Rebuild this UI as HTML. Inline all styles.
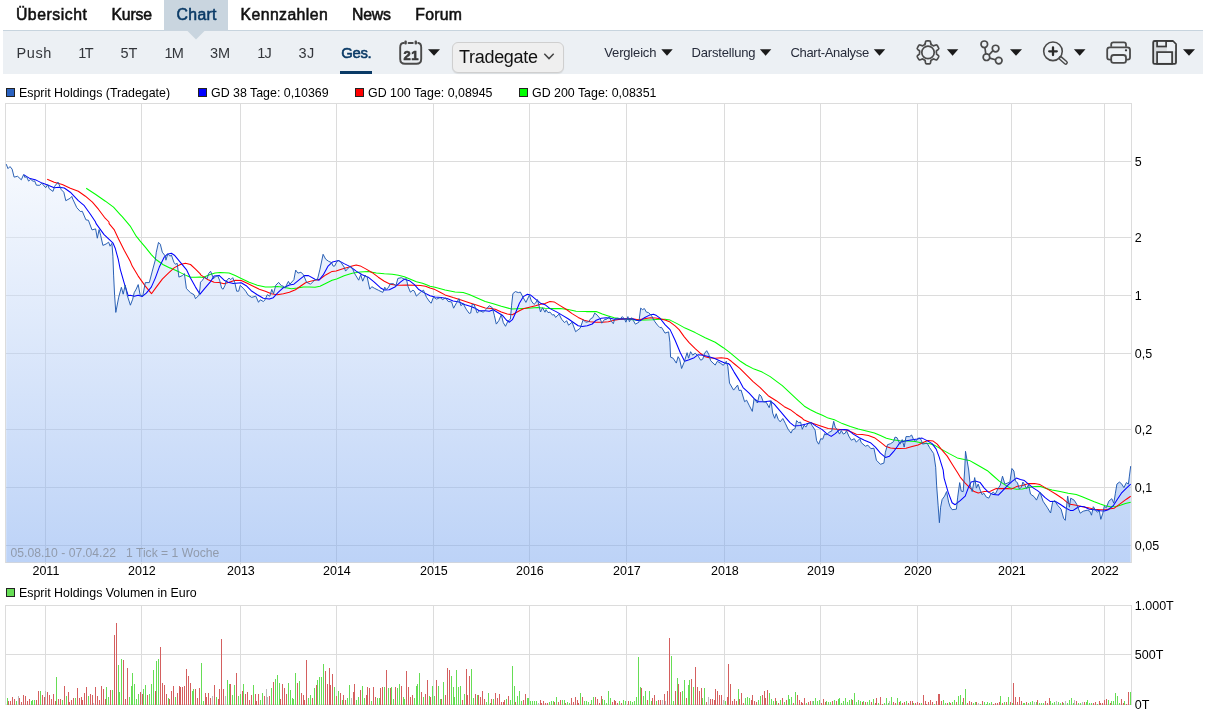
<!DOCTYPE html>
<html lang="de">
<head>
<meta charset="utf-8">
<title>Esprit Holdings Chart</title>
<style>
html,body{margin:0;padding:0;background:#fff;}
body{width:1205px;height:717px;position:relative;overflow:hidden;font-family:"Liberation Sans",Arial,sans-serif;color:#000;}
.tabact{position:absolute;left:164px;top:0;width:64px;height:31px;background:#c9d5df;}
.bar{position:absolute;left:3px;top:30px;width:1200px;height:44px;background:#ecf0f4;border-top:1px solid #c7d4de;box-sizing:border-box;}
.ptr{position:absolute;left:187px;top:30px;width:0;height:0;border-left:9px solid transparent;border-right:9px solid transparent;border-top:9.5px solid #c9d5df;}
.selbox{position:absolute;left:452px;top:42px;width:112px;height:31px;box-sizing:border-box;border:1px solid #cfcfcf;border-radius:6px;background:#efefef;font-size:18px;letter-spacing:-0.3px;line-height:29px;color:#111;padding-left:6px;box-shadow:0 1px 1px rgba(0,0,0,0.08);}
</style>
</head>
<body>
<svg width="1205" height="717" viewBox="0 0 1205 717" style="position:absolute;left:0;top:0" font-family="Liberation Sans, Arial, sans-serif" font-size="12.5">
<defs><linearGradient id="ag" gradientUnits="userSpaceOnUse" x1="0" y1="103" x2="0" y2="562"><stop offset="0" stop-color="#ffffff"/><stop offset="1" stop-color="#7ba7ef"/></linearGradient>
<clipPath id="cp"><rect x="5.5" y="103.5" width="1126.0" height="459.0"/></clipPath></defs>
<path d="M45.5 103.5 V564.5 M45.5 605.5 V704.5 M141.5 103.5 V564.5 M141.5 605.5 V704.5 M240.5 103.5 V564.5 M240.5 605.5 V704.5 M336.5 103.5 V564.5 M336.5 605.5 V704.5 M433.5 103.5 V564.5 M433.5 605.5 V704.5 M529.5 103.5 V564.5 M529.5 605.5 V704.5 M626.5 103.5 V564.5 M626.5 605.5 V704.5 M724.5 103.5 V564.5 M724.5 605.5 V704.5 M820.5 103.5 V564.5 M820.5 605.5 V704.5 M917.5 103.5 V564.5 M917.5 605.5 V704.5 M1011.5 103.5 V564.5 M1011.5 605.5 V704.5 M1104.5 103.5 V564.5 M1104.5 605.5 V704.5 M5.5 161.5 H1131.5 M5.5 237.5 H1131.5 M5.5 295.5 H1131.5 M5.5 353.5 H1131.5 M5.5 429.5 H1131.5 M5.5 487.5 H1131.5 M5.5 545.5 H1131.5 M5.5 654.5 H1131.5" stroke="#dcdcdc" stroke-width="1" fill="none"/>
<rect x="5.5" y="103.5" width="1126.0" height="459.0" fill="none" stroke="#dcdcdc"/>
<rect x="5.5" y="605.5" width="1126.0" height="99.0" fill="none" stroke="#dcdcdc"/>
<g clip-path="url(#cp)">
<path d="M6.2 164.1 L8.0 168.6 L10.0 166.6 L12.1 169.1 L14.1 177.1 L17.6 176.3 L21.3 179.8 L23.6 174.6 L25.1 177.6 L26.3 176.3 L28.6 181.1 L30.6 179.3 L33.1 181.3 L34.6 180.9 L36.4 185.2 L39.7 185.3 L41.7 183.1 L45.7 187.7 L47.7 184.6 L49.2 188.7 L53.0 191.4 L54.7 186.2 L58.0 182.1 L61.3 189.7 L63.8 192.2 L65.8 200.7 L70.3 198.2 L71.8 196.4 L72.8 199.2 L76.8 207.7 L80.3 211.5 L82.3 211.3 L85.9 219.8 L88.4 220.3 L92.0 229.9 L95.6 228.9 L97.3 238.2 L99.1 229.6 L100.6 235.2 L102.9 245.4 L106.1 244.0 L108.6 242.2 L110.1 246.2 L111.9 243.4 L112.9 256.2 L113.6 275.1 L114.6 295.2 L115.8 312.4 L118.7 297.2 L121.4 287.3 L123.2 294.2 L125.2 285.1 L127.2 295.2 L130.4 305.2 L132.7 299.2 L134.2 292.7 L136.2 289.1 L138.2 284.6 L140.2 295.2 L142.8 295.7 L145.3 282.6 L149.3 282.6 L152.3 271.1 L155.3 260.0 L156.3 252.2 L158.5 242.4 L160.3 244.2 L162.3 252.2 L165.4 256.2 L165.9 260.2 L167.9 253.7 L169.9 256.2 L171.4 255.0 L173.9 262.3 L175.4 264.3 L177.2 263.3 L178.9 277.1 L182.4 275.6 L184.4 273.6 L186.4 288.6 L190.5 292.7 L194.0 294.7 L195.5 298.7 L199.0 295.2 L200.0 288.1 L200.5 282.2 L202.5 280.2 L204.5 277.1 L207.1 278.7 L208.6 273.6 L210.6 271.3 L213.6 278.7 L215.6 276.6 L217.6 275.6 L219.6 280.2 L221.6 288.2 L223.1 289.2 L225.1 285.2 L226.1 281.2 L229.1 278.0 L230.7 279.7 L232.7 277.7 L234.7 282.2 L236.7 291.2 L238.7 291.2 L240.2 285.4 L243.2 288.2 L245.7 291.2 L248.2 295.2 L251.7 297.4 L255.8 296.2 L258.5 302.3 L260.3 299.8 L263.3 301.5 L264.8 300.2 L267.3 294.7 L269.8 296.2 L271.8 289.4 L273.5 293.7 L275.8 285.2 L278.6 282.4 L281.4 285.7 L283.4 286.2 L284.9 288.2 L288.4 281.4 L289.9 284.2 L293.9 279.7 L295.7 270.1 L297.9 273.1 L300.9 272.3 L303.4 274.6 L306.5 282.2 L310.5 284.2 L315.0 279.7 L317.5 279.2 L320.0 269.1 L323.1 254.3 L325.6 259.1 L328.6 261.3 L331.6 262.6 L333.1 266.1 L334.6 266.1 L336.6 262.1 L338.6 260.1 L341.1 262.6 L344.1 267.1 L345.6 271.1 L348.2 268.1 L350.2 266.3 L352.7 269.1 L354.7 273.7 L358.7 280.2 L360.7 274.7 L362.7 281.2 L365.2 275.2 L367.2 277.2 L369.8 289.2 L371.8 286.7 L374.3 288.2 L378.3 290.2 L382.8 292.4 L384.8 287.2 L385.8 289.7 L388.3 287.7 L390.3 283.7 L393.4 283.7 L395.9 285.7 L397.9 278.4 L401.4 277.7 L404.4 279.2 L406.4 278.7 L407.9 286.2 L410.4 292.2 L412.9 290.2 L414.4 291.2 L416.4 296.1 L420.5 292.2 L423.5 290.2 L426.5 297.3 L430.0 302.3 L431.2 303.2 L433.5 297.1 L436.6 299.1 L440.1 297.6 L442.6 299.6 L445.6 297.9 L448.1 301.4 L451.6 301.9 L453.6 308.2 L456.6 302.7 L458.9 298.6 L460.9 305.7 L463.2 303.7 L466.2 309.2 L469.2 313.4 L470.7 313.0 L472.2 304.2 L474.2 304.7 L477.2 313.0 L479.7 310.7 L483.2 312.2 L486.3 309.2 L489.3 305.7 L492.3 307.7 L494.3 315.2 L496.3 324.1 L498.8 320.7 L501.3 314.7 L503.3 322.7 L505.5 326.3 L507.9 321.2 L510.4 319.2 L511.6 305.2 L512.9 293.6 L515.4 291.6 L518.4 292.6 L520.4 292.1 L522.9 297.1 L525.9 302.4 L529.4 295.1 L531.4 301.1 L534.0 304.4 L535.5 303.2 L537.5 299.6 L540.5 312.0 L542.5 307.7 L545.0 312.2 L546.0 309.6 L548.0 312.6 L550.0 312.1 L552.5 315.1 L554.1 314.6 L555.6 317.4 L559.1 314.1 L561.6 319.2 L564.6 322.7 L566.6 320.7 L568.6 325.2 L572.1 322.2 L575.6 331.7 L580.2 328.2 L583.2 319.7 L585.7 322.2 L588.7 321.7 L590.7 318.7 L592.7 317.7 L594.7 313.1 L597.2 315.1 L600.2 318.7 L601.8 323.2 L604.3 319.7 L606.8 319.2 L609.3 316.6 L611.3 321.2 L613.3 323.7 L614.8 318.7 L617.8 318.2 L620.3 318.7 L622.3 316.6 L624.4 318.7 L625.9 322.2 L627.9 316.6 L629.4 321.7 L631.6 317.7 L633.4 320.7 L635.4 324.2 L638.9 322.2 L640.7 308.1 L642.4 309.6 L644.4 308.6 L646.4 312.1 L648.5 312.6 L651.5 315.6 L654.5 321.2 L657.5 325.2 L660.0 327.7 L661.5 327.3 L665.0 333.1 L668.6 331.9 L669.9 342.2 L670.6 357.2 L673.1 358.2 L676.3 363.1 L678.1 356.7 L679.6 359.2 L681.6 368.5 L684.1 362.3 L687.1 352.7 L688.6 358.2 L690.6 351.7 L692.7 355.2 L695.2 353.2 L698.2 356.2 L700.7 360.2 L702.7 359.2 L704.7 353.2 L706.7 350.7 L708.7 354.2 L710.7 360.8 L715.2 365.1 L717.3 361.3 L720.3 363.1 L723.3 365.3 L726.3 361.3 L727.8 366.3 L729.5 383.1 L733.6 390.1 L737.6 385.1 L739.1 390.6 L741.1 390.1 L744.6 401.7 L746.6 400.2 L749.1 405.2 L752.3 411.4 L754.1 398.7 L757.4 403.0 L759.4 394.4 L761.2 396.2 L763.2 401.7 L766.2 402.2 L769.2 407.7 L771.0 400.7 L772.7 413.2 L774.7 418.3 L776.2 413.7 L778.2 419.3 L780.2 421.8 L782.8 418.5 L785.3 423.3 L788.0 429.1 L791.0 433.1 L792.5 429.9 L795.1 428.6 L796.6 420.6 L798.6 422.6 L800.6 422.1 L802.3 429.3 L804.1 425.1 L805.9 427.1 L807.6 424.1 L810.1 422.3 L812.1 425.6 L815.1 430.1 L816.6 440.7 L818.7 444.2 L820.7 438.7 L822.7 439.2 L824.7 433.6 L826.2 435.1 L829.2 432.1 L831.7 431.1 L833.7 421.3 L835.2 427.1 L837.2 429.6 L839.5 434.1 L841.3 430.6 L843.3 434.1 L845.3 433.1 L846.5 430.6 L848.8 436.1 L851.3 440.2 L854.3 438.7 L856.3 442.2 L859.8 438.7 L861.3 442.7 L865.4 446.2 L867.9 445.2 L870.9 448.7 L873.9 448.2 L876.4 460.2 L880.4 464.3 L883.9 463.1 L885.4 452.2 L887.5 444.7 L890.5 443.7 L893.5 441.7 L895.0 437.1 L897.0 437.7 L900.0 444.2 L902.2 439.6 L904.2 447.1 L906.0 436.6 L909.6 436.6 L911.6 435.0 L913.6 439.6 L915.6 441.1 L919.1 437.6 L921.3 440.1 L922.6 444.1 L927.1 443.1 L929.6 447.6 L933.7 453.6 L935.7 467.2 L936.6 485.1 L938.1 505.2 L939.4 522.7 L940.6 507.2 L942.1 499.6 L944.6 496.1 L946.6 491.6 L948.6 502.1 L950.1 506.7 L952.1 509.7 L956.4 509.2 L957.7 497.1 L959.7 482.6 L961.2 491.1 L963.2 491.6 L964.7 470.0 L965.5 451.3 L968.7 470.0 L970.2 485.1 L972.2 491.6 L974.7 477.6 L976.4 488.1 L978.2 484.1 L980.2 490.1 L982.1 494.6 L983.8 493.1 L986.3 497.1 L988.8 498.1 L990.8 494.1 L993.3 492.1 L995.3 494.1 L997.8 489.1 L1000.3 485.1 L1002.5 476.2 L1004.9 484.1 L1007.4 483.1 L1009.9 482.1 L1011.9 468.5 L1013.9 471.0 L1015.4 481.1 L1017.4 482.6 L1019.4 489.1 L1021.4 487.1 L1022.9 482.1 L1024.9 485.1 L1026.6 488.6 L1028.5 484.6 L1030.5 494.1 L1034.0 496.6 L1036.5 500.1 L1039.0 494.1 L1040.0 492.1 L1043.0 501.2 L1047.1 507.2 L1050.6 513.0 L1052.6 502.2 L1054.6 500.7 L1057.6 505.2 L1061.1 509.2 L1063.6 518.3 L1065.3 520.3 L1066.7 505.2 L1067.7 496.2 L1069.4 507.2 L1070.7 498.2 L1074.2 500.2 L1076.7 504.2 L1080.2 513.2 L1083.2 511.2 L1087.2 510.2 L1089.8 511.2 L1091.5 515.2 L1093.3 506.7 L1095.3 509.7 L1097.3 512.2 L1099.3 510.7 L1100.8 519.3 L1102.8 513.2 L1104.3 506.2 L1106.3 507.7 L1108.8 501.2 L1111.8 498.7 L1113.8 503.2 L1115.4 493.2 L1116.9 484.1 L1119.4 482.1 L1121.4 483.6 L1123.9 487.6 L1126.4 482.6 L1128.4 484.1 L1129.4 476.1 L1130.7 466.1 L1130.7 562.5 L6.2 562.5 Z" fill="url(#ag)" fill-opacity="0.5" stroke="none"/>
<path d="M86.2 188.2 L95.4 194.2 L105.4 201.2 L113.5 207.2 L120.0 214.3 L122.2 216.6 L130.2 226.1 L136.2 236.2 L140.2 241.2 L145.3 247.2 L151.3 254.7 L156.3 259.8 L163.3 264.8 L170.4 268.3 L170.4 268.1 L179.4 272.1 L186.4 275.6 L190.5 277.3 L195.5 277.3 L200.0 276.9 L203.0 277.4 L210.1 274.6 L215.1 273.1 L220.1 272.4 L229.1 273.1 L235.2 275.6 L241.2 278.4 L249.2 282.2 L257.3 285.2 L265.3 287.0 L271.3 287.0 L277.3 286.4 L283.4 287.2 L291.4 288.7 L297.4 288.0 L303.4 287.0 L309.5 287.0 L315.0 287.2 L320.0 286.2 L326.1 283.2 L332.1 280.2 L336.6 279.0 L344.1 275.7 L352.2 273.2 L360.2 271.9 L368.2 271.6 L376.3 273.0 L384.3 273.7 L392.3 274.2 L398.4 275.2 L404.4 276.7 L410.4 279.2 L416.4 281.7 L422.5 283.2 L426.5 284.7 L430.0 286.2 L435.0 287.3 L445.1 290.1 L455.1 291.9 L463.2 292.6 L469.2 294.6 L477.2 298.1 L485.2 301.6 L493.3 303.7 L501.3 306.2 L511.4 309.0 L517.4 308.7 L523.4 308.4 L531.4 308.0 L537.5 307.4 L545.0 308.2 L552.0 308.6 L560.1 308.6 L568.1 309.6 L576.1 311.3 L586.2 311.6 L596.2 311.6 L602.3 314.1 L608.3 315.9 L614.3 317.7 L620.3 318.7 L630.4 319.4 L638.4 320.2 L645.4 320.0 L652.5 319.7 L660.0 319.2 L665.0 319.3 L670.1 320.1 L677.1 323.6 L685.1 328.1 L695.2 332.6 L705.2 337.7 L715.2 342.2 L723.3 347.7 L729.3 352.2 L735.3 357.2 L740.4 361.3 L746.1 365.0 L754.1 369.1 L762.2 372.1 L770.2 376.6 L776.2 381.1 L782.3 385.6 L790.3 393.2 L798.3 400.7 L804.4 406.2 L810.4 409.7 L816.4 412.7 L822.4 415.2 L828.2 418.1 L835.2 420.1 L842.3 423.6 L850.3 426.6 L858.3 429.1 L866.4 431.1 L874.4 433.1 L880.4 435.6 L886.4 438.2 L892.5 439.7 L900.0 440.7 L908.0 441.1 L915.1 441.6 L922.1 443.1 L929.1 443.6 L935.2 445.6 L941.2 449.1 L949.2 453.6 L957.3 457.9 L964.3 459.6 L969.3 460.4 L975.3 463.7 L981.4 467.2 L987.4 470.7 L992.3 475.0 L999.3 481.1 L1005.4 485.1 L1010.4 488.1 L1016.4 489.3 L1022.4 488.9 L1028.5 487.6 L1034.5 486.6 L1040.0 486.3 L1046.1 488.6 L1052.1 490.1 L1060.1 491.6 L1068.2 493.2 L1076.2 494.4 L1082.2 496.7 L1088.2 499.2 L1094.3 501.7 L1100.3 504.0 L1105.3 505.7 L1110.3 506.7 L1115.4 506.7 L1120.4 505.2 L1125.4 503.4 L1130.7 502.2" fill="none" stroke="#00ff00" stroke-width="1.05" stroke-linejoin="round"/>
<path d="M47.2 179.3 L54.2 182.3 L62.3 184.6 L70.3 188.2 L78.3 191.2 L85.4 196.2 L92.4 202.2 L98.4 209.2 L104.4 217.3 L109.0 222.0 L109.1 223.6 L114.1 229.6 L118.2 238.2 L124.2 250.2 L130.2 261.3 L132.2 266.1 L138.2 276.1 L145.3 286.1 L151.5 293.7 L156.3 287.1 L162.3 279.1 L168.4 273.1 L174.4 267.6 L180.4 264.5 L185.4 263.2 L190.5 264.5 L195.5 269.1 L200.0 273.6 L201.0 275.1 L208.1 279.7 L214.1 282.2 L219.1 282.4 L224.1 283.7 L229.1 282.2 L235.2 280.2 L241.2 280.4 L247.2 283.2 L253.2 286.2 L259.3 289.2 L265.3 291.2 L271.3 293.7 L277.3 294.7 L283.4 293.7 L289.4 292.2 L295.4 289.7 L300.4 286.2 L305.5 282.7 L310.5 281.2 L315.0 280.2 L320.0 279.2 L326.1 274.7 L332.1 271.4 L336.1 270.9 L342.1 269.1 L348.2 267.3 L352.2 265.9 L356.2 265.1 L360.2 265.9 L366.2 269.1 L372.3 272.7 L378.3 277.2 L384.3 281.2 L390.3 284.2 L395.4 285.0 L400.4 285.2 L406.4 285.0 L414.4 285.2 L420.5 285.5 L425.5 286.2 L430.0 288.0 L435.0 289.6 L440.1 292.3 L445.1 294.9 L453.1 297.6 L461.1 300.1 L469.2 302.7 L477.2 305.2 L485.2 308.0 L491.3 308.4 L495.3 309.2 L501.3 312.0 L507.3 314.0 L512.4 314.7 L515.4 313.0 L519.4 310.7 L523.4 308.7 L529.4 307.2 L535.5 305.7 L540.5 304.2 L545.0 303.4 L550.0 301.6 L554.1 301.9 L560.1 305.6 L566.1 309.3 L572.1 313.6 L578.2 317.4 L584.2 320.2 L590.2 321.7 L596.2 322.2 L602.3 322.2 L608.3 321.7 L614.3 320.2 L620.3 319.2 L626.4 318.7 L632.4 318.7 L638.4 319.7 L644.4 318.7 L650.5 317.7 L655.5 318.0 L660.0 318.7 L665.0 320.1 L670.1 322.1 L675.1 325.9 L679.1 329.6 L684.1 336.6 L689.1 342.7 L695.2 348.7 L700.2 353.2 L705.2 356.7 L709.2 357.7 L715.2 358.2 L721.3 357.7 L727.3 358.4 L731.3 361.3 L735.1 364.5 L740.1 368.6 L746.1 374.6 L753.1 381.6 L760.2 387.6 L768.2 395.7 L776.2 400.7 L784.3 406.7 L790.3 409.7 L796.3 414.2 L802.3 418.3 L804.1 420.1 L810.1 422.6 L816.1 424.6 L822.2 426.6 L828.2 428.6 L834.2 429.1 L840.2 429.6 L846.3 430.1 L850.3 431.6 L856.3 434.3 L862.3 434.6 L868.4 435.4 L874.4 437.7 L880.4 442.2 L885.4 446.2 L890.5 448.0 L895.5 448.4 L900.0 448.4 L906.0 448.3 L912.1 446.6 L918.1 444.9 L924.1 442.1 L928.1 440.6 L933.2 441.1 L937.2 444.1 L941.2 449.1 L947.2 456.1 L952.2 464.2 L957.3 472.2 L960.2 477.1 L965.2 483.1 L970.2 488.1 L974.2 491.6 L978.2 493.1 L984.3 491.6 L990.3 491.3 L996.3 488.6 L1002.3 488.6 L1007.4 488.6 L1011.4 489.1 L1016.4 486.6 L1022.4 485.6 L1028.5 483.6 L1034.5 483.6 L1040.0 484.6 L1045.1 487.6 L1050.1 490.6 L1056.1 494.2 L1062.1 498.2 L1066.2 501.7 L1070.2 504.2 L1076.2 505.2 L1082.2 506.7 L1088.2 507.7 L1094.3 509.2 L1100.3 509.7 L1106.3 509.7 L1110.3 508.7 L1114.3 508.2 L1118.4 505.2 L1122.4 502.2 L1126.4 499.2 L1130.7 496.2" fill="none" stroke="#ff0000" stroke-width="1.05" stroke-linejoin="round"/>
<path d="M23.6 174.6 L30.1 178.6 L36.1 180.1 L42.2 183.1 L48.2 185.3 L54.2 187.7 L59.2 187.2 L64.3 188.0 L70.3 192.2 L78.3 200.7 L84.3 205.7 L90.4 214.3 L95.4 221.8 L96.1 223.6 L104.1 234.6 L113.1 243.2 L115.2 248.2 L118.2 259.2 L120.2 269.1 L124.2 283.1 L128.2 295.7 L130.2 295.2 L134.2 296.2 L138.2 295.2 L142.3 296.4 L146.3 293.2 L151.3 287.1 L155.3 278.1 L159.3 267.1 L164.3 257.0 L164.3 257.2 L167.4 254.2 L171.4 253.2 L174.4 255.2 L180.4 262.3 L186.4 269.6 L190.5 278.1 L195.5 287.1 L200.0 294.2 L205.0 288.2 L210.1 282.2 L214.1 276.1 L219.1 275.4 L224.1 280.2 L228.1 282.2 L233.2 283.4 L241.2 282.7 L246.2 285.7 L251.2 290.7 L257.3 294.7 L263.3 298.2 L269.3 299.1 L273.3 297.7 L278.4 292.2 L283.4 287.7 L289.4 285.0 L293.9 284.2 L299.4 279.7 L304.5 275.6 L308.5 275.6 L315.0 279.2 L319.0 280.2 L323.1 275.2 L328.1 266.1 L332.6 261.9 L338.6 260.6 L344.1 263.6 L350.2 266.6 L356.2 271.1 L362.2 274.7 L368.2 277.2 L374.3 282.2 L380.3 287.7 L384.3 290.0 L389.3 289.7 L395.4 286.7 L400.4 282.2 L404.4 279.2 L409.4 280.7 L414.4 284.7 L418.4 289.2 L423.5 292.4 L430.0 295.8 L435.0 297.1 L441.1 297.6 L447.1 298.6 L453.1 301.1 L459.1 302.1 L465.2 304.7 L470.2 306.2 L475.2 308.2 L479.2 310.7 L485.2 310.7 L489.3 311.2 L493.3 309.7 L497.3 312.2 L502.3 315.2 L506.3 320.0 L509.4 322.2 L512.4 319.7 L515.4 313.2 L519.4 303.2 L523.4 296.6 L527.4 294.3 L530.4 294.9 L535.5 299.1 L540.5 303.2 L545.0 304.7 L550.0 308.6 L556.1 311.6 L562.1 315.1 L568.1 318.7 L573.1 322.2 L578.2 325.7 L582.2 326.4 L587.2 325.7 L592.2 324.0 L596.2 320.2 L601.3 318.2 L606.3 317.7 L610.3 318.2 L614.3 319.2 L620.3 318.7 L626.4 319.0 L632.4 318.7 L636.4 320.2 L640.4 320.7 L644.4 317.7 L649.5 315.1 L653.5 314.3 L656.5 315.6 L660.0 318.2 L665.0 324.6 L670.1 329.6 L675.1 340.2 L680.1 352.2 L684.6 361.3 L689.1 359.8 L694.2 357.7 L698.2 354.7 L703.2 355.2 L709.2 356.7 L715.2 358.7 L721.3 361.5 L725.3 363.3 L728.3 363.5 L730.0 365.0 L734.1 372.1 L739.1 380.1 L743.1 387.6 L749.1 393.2 L754.1 398.7 L758.2 401.7 L764.2 401.7 L770.2 401.0 L774.2 404.2 L780.2 411.2 L786.3 418.3 L790.0 422.6 L794.1 425.9 L800.1 425.6 L806.1 424.1 L811.1 422.6 L816.1 426.1 L822.2 429.6 L827.2 434.1 L831.2 436.4 L835.2 433.6 L839.2 430.1 L844.3 429.6 L848.3 430.1 L853.3 434.1 L859.3 437.7 L864.4 440.2 L870.4 442.7 L875.4 447.2 L880.4 453.2 L885.4 457.4 L889.5 456.2 L893.5 451.7 L897.5 446.2 L900.0 442.2 L905.0 441.1 L911.1 439.9 L917.1 439.1 L922.1 438.1 L927.1 440.6 L932.1 443.6 L936.2 449.1 L939.2 457.1 L943.2 470.2 L944.1 478.1 L948.1 492.1 L952.1 502.7 L955.1 504.7 L960.2 500.6 L965.2 496.1 L968.2 488.1 L971.2 482.1 L975.2 481.1 L980.2 482.6 L984.3 488.1 L988.3 492.1 L993.3 494.6 L998.3 495.1 L1002.3 491.1 L1007.4 485.6 L1012.4 481.1 L1016.4 478.1 L1020.4 479.6 L1024.4 480.6 L1028.5 484.1 L1033.5 488.1 L1037.5 490.6 L1040.0 492.6 L1045.1 497.7 L1050.1 501.4 L1055.1 501.2 L1060.1 504.2 L1065.2 507.7 L1070.2 510.4 L1073.2 510.4 L1077.2 507.7 L1080.2 506.2 L1084.2 506.7 L1089.2 509.2 L1094.3 509.7 L1100.3 510.7 L1104.3 511.0 L1108.3 509.7 L1113.3 505.7 L1117.4 499.2 L1121.4 493.2 L1125.4 489.1 L1130.7 484.1" fill="none" stroke="#0000ff" stroke-width="1.05" stroke-linejoin="round"/>
<path d="M6.2 164.1 L8.0 168.6 L10.0 166.6 L12.1 169.1 L14.1 177.1 L17.6 176.3 L21.3 179.8 L23.6 174.6 L25.1 177.6 L26.3 176.3 L28.6 181.1 L30.6 179.3 L33.1 181.3 L34.6 180.9 L36.4 185.2 L39.7 185.3 L41.7 183.1 L45.7 187.7 L47.7 184.6 L49.2 188.7 L53.0 191.4 L54.7 186.2 L58.0 182.1 L61.3 189.7 L63.8 192.2 L65.8 200.7 L70.3 198.2 L71.8 196.4 L72.8 199.2 L76.8 207.7 L80.3 211.5 L82.3 211.3 L85.9 219.8 L88.4 220.3 L92.0 229.9 L95.6 228.9 L97.3 238.2 L99.1 229.6 L100.6 235.2 L102.9 245.4 L106.1 244.0 L108.6 242.2 L110.1 246.2 L111.9 243.4 L112.9 256.2 L113.6 275.1 L114.6 295.2 L115.8 312.4 L118.7 297.2 L121.4 287.3 L123.2 294.2 L125.2 285.1 L127.2 295.2 L130.4 305.2 L132.7 299.2 L134.2 292.7 L136.2 289.1 L138.2 284.6 L140.2 295.2 L142.8 295.7 L145.3 282.6 L149.3 282.6 L152.3 271.1 L155.3 260.0 L156.3 252.2 L158.5 242.4 L160.3 244.2 L162.3 252.2 L165.4 256.2 L165.9 260.2 L167.9 253.7 L169.9 256.2 L171.4 255.0 L173.9 262.3 L175.4 264.3 L177.2 263.3 L178.9 277.1 L182.4 275.6 L184.4 273.6 L186.4 288.6 L190.5 292.7 L194.0 294.7 L195.5 298.7 L199.0 295.2 L200.0 288.1 L200.5 282.2 L202.5 280.2 L204.5 277.1 L207.1 278.7 L208.6 273.6 L210.6 271.3 L213.6 278.7 L215.6 276.6 L217.6 275.6 L219.6 280.2 L221.6 288.2 L223.1 289.2 L225.1 285.2 L226.1 281.2 L229.1 278.0 L230.7 279.7 L232.7 277.7 L234.7 282.2 L236.7 291.2 L238.7 291.2 L240.2 285.4 L243.2 288.2 L245.7 291.2 L248.2 295.2 L251.7 297.4 L255.8 296.2 L258.5 302.3 L260.3 299.8 L263.3 301.5 L264.8 300.2 L267.3 294.7 L269.8 296.2 L271.8 289.4 L273.5 293.7 L275.8 285.2 L278.6 282.4 L281.4 285.7 L283.4 286.2 L284.9 288.2 L288.4 281.4 L289.9 284.2 L293.9 279.7 L295.7 270.1 L297.9 273.1 L300.9 272.3 L303.4 274.6 L306.5 282.2 L310.5 284.2 L315.0 279.7 L317.5 279.2 L320.0 269.1 L323.1 254.3 L325.6 259.1 L328.6 261.3 L331.6 262.6 L333.1 266.1 L334.6 266.1 L336.6 262.1 L338.6 260.1 L341.1 262.6 L344.1 267.1 L345.6 271.1 L348.2 268.1 L350.2 266.3 L352.7 269.1 L354.7 273.7 L358.7 280.2 L360.7 274.7 L362.7 281.2 L365.2 275.2 L367.2 277.2 L369.8 289.2 L371.8 286.7 L374.3 288.2 L378.3 290.2 L382.8 292.4 L384.8 287.2 L385.8 289.7 L388.3 287.7 L390.3 283.7 L393.4 283.7 L395.9 285.7 L397.9 278.4 L401.4 277.7 L404.4 279.2 L406.4 278.7 L407.9 286.2 L410.4 292.2 L412.9 290.2 L414.4 291.2 L416.4 296.1 L420.5 292.2 L423.5 290.2 L426.5 297.3 L430.0 302.3 L431.2 303.2 L433.5 297.1 L436.6 299.1 L440.1 297.6 L442.6 299.6 L445.6 297.9 L448.1 301.4 L451.6 301.9 L453.6 308.2 L456.6 302.7 L458.9 298.6 L460.9 305.7 L463.2 303.7 L466.2 309.2 L469.2 313.4 L470.7 313.0 L472.2 304.2 L474.2 304.7 L477.2 313.0 L479.7 310.7 L483.2 312.2 L486.3 309.2 L489.3 305.7 L492.3 307.7 L494.3 315.2 L496.3 324.1 L498.8 320.7 L501.3 314.7 L503.3 322.7 L505.5 326.3 L507.9 321.2 L510.4 319.2 L511.6 305.2 L512.9 293.6 L515.4 291.6 L518.4 292.6 L520.4 292.1 L522.9 297.1 L525.9 302.4 L529.4 295.1 L531.4 301.1 L534.0 304.4 L535.5 303.2 L537.5 299.6 L540.5 312.0 L542.5 307.7 L545.0 312.2 L546.0 309.6 L548.0 312.6 L550.0 312.1 L552.5 315.1 L554.1 314.6 L555.6 317.4 L559.1 314.1 L561.6 319.2 L564.6 322.7 L566.6 320.7 L568.6 325.2 L572.1 322.2 L575.6 331.7 L580.2 328.2 L583.2 319.7 L585.7 322.2 L588.7 321.7 L590.7 318.7 L592.7 317.7 L594.7 313.1 L597.2 315.1 L600.2 318.7 L601.8 323.2 L604.3 319.7 L606.8 319.2 L609.3 316.6 L611.3 321.2 L613.3 323.7 L614.8 318.7 L617.8 318.2 L620.3 318.7 L622.3 316.6 L624.4 318.7 L625.9 322.2 L627.9 316.6 L629.4 321.7 L631.6 317.7 L633.4 320.7 L635.4 324.2 L638.9 322.2 L640.7 308.1 L642.4 309.6 L644.4 308.6 L646.4 312.1 L648.5 312.6 L651.5 315.6 L654.5 321.2 L657.5 325.2 L660.0 327.7 L661.5 327.3 L665.0 333.1 L668.6 331.9 L669.9 342.2 L670.6 357.2 L673.1 358.2 L676.3 363.1 L678.1 356.7 L679.6 359.2 L681.6 368.5 L684.1 362.3 L687.1 352.7 L688.6 358.2 L690.6 351.7 L692.7 355.2 L695.2 353.2 L698.2 356.2 L700.7 360.2 L702.7 359.2 L704.7 353.2 L706.7 350.7 L708.7 354.2 L710.7 360.8 L715.2 365.1 L717.3 361.3 L720.3 363.1 L723.3 365.3 L726.3 361.3 L727.8 366.3 L729.5 383.1 L733.6 390.1 L737.6 385.1 L739.1 390.6 L741.1 390.1 L744.6 401.7 L746.6 400.2 L749.1 405.2 L752.3 411.4 L754.1 398.7 L757.4 403.0 L759.4 394.4 L761.2 396.2 L763.2 401.7 L766.2 402.2 L769.2 407.7 L771.0 400.7 L772.7 413.2 L774.7 418.3 L776.2 413.7 L778.2 419.3 L780.2 421.8 L782.8 418.5 L785.3 423.3 L788.0 429.1 L791.0 433.1 L792.5 429.9 L795.1 428.6 L796.6 420.6 L798.6 422.6 L800.6 422.1 L802.3 429.3 L804.1 425.1 L805.9 427.1 L807.6 424.1 L810.1 422.3 L812.1 425.6 L815.1 430.1 L816.6 440.7 L818.7 444.2 L820.7 438.7 L822.7 439.2 L824.7 433.6 L826.2 435.1 L829.2 432.1 L831.7 431.1 L833.7 421.3 L835.2 427.1 L837.2 429.6 L839.5 434.1 L841.3 430.6 L843.3 434.1 L845.3 433.1 L846.5 430.6 L848.8 436.1 L851.3 440.2 L854.3 438.7 L856.3 442.2 L859.8 438.7 L861.3 442.7 L865.4 446.2 L867.9 445.2 L870.9 448.7 L873.9 448.2 L876.4 460.2 L880.4 464.3 L883.9 463.1 L885.4 452.2 L887.5 444.7 L890.5 443.7 L893.5 441.7 L895.0 437.1 L897.0 437.7 L900.0 444.2 L902.2 439.6 L904.2 447.1 L906.0 436.6 L909.6 436.6 L911.6 435.0 L913.6 439.6 L915.6 441.1 L919.1 437.6 L921.3 440.1 L922.6 444.1 L927.1 443.1 L929.6 447.6 L933.7 453.6 L935.7 467.2 L936.6 485.1 L938.1 505.2 L939.4 522.7 L940.6 507.2 L942.1 499.6 L944.6 496.1 L946.6 491.6 L948.6 502.1 L950.1 506.7 L952.1 509.7 L956.4 509.2 L957.7 497.1 L959.7 482.6 L961.2 491.1 L963.2 491.6 L964.7 470.0 L965.5 451.3 L968.7 470.0 L970.2 485.1 L972.2 491.6 L974.7 477.6 L976.4 488.1 L978.2 484.1 L980.2 490.1 L982.1 494.6 L983.8 493.1 L986.3 497.1 L988.8 498.1 L990.8 494.1 L993.3 492.1 L995.3 494.1 L997.8 489.1 L1000.3 485.1 L1002.5 476.2 L1004.9 484.1 L1007.4 483.1 L1009.9 482.1 L1011.9 468.5 L1013.9 471.0 L1015.4 481.1 L1017.4 482.6 L1019.4 489.1 L1021.4 487.1 L1022.9 482.1 L1024.9 485.1 L1026.6 488.6 L1028.5 484.6 L1030.5 494.1 L1034.0 496.6 L1036.5 500.1 L1039.0 494.1 L1040.0 492.1 L1043.0 501.2 L1047.1 507.2 L1050.6 513.0 L1052.6 502.2 L1054.6 500.7 L1057.6 505.2 L1061.1 509.2 L1063.6 518.3 L1065.3 520.3 L1066.7 505.2 L1067.7 496.2 L1069.4 507.2 L1070.7 498.2 L1074.2 500.2 L1076.7 504.2 L1080.2 513.2 L1083.2 511.2 L1087.2 510.2 L1089.8 511.2 L1091.5 515.2 L1093.3 506.7 L1095.3 509.7 L1097.3 512.2 L1099.3 510.7 L1100.8 519.3 L1102.8 513.2 L1104.3 506.2 L1106.3 507.7 L1108.8 501.2 L1111.8 498.7 L1113.8 503.2 L1115.4 493.2 L1116.9 484.1 L1119.4 482.1 L1121.4 483.6 L1123.9 487.6 L1126.4 482.6 L1128.4 484.1 L1129.4 476.1 L1130.7 466.1" fill="none" stroke="#2058b0" stroke-width="0.95" stroke-linejoin="round"/>
</g>
<text x="45.9" y="575" text-anchor="middle" fill="#000">2011</text>
<text x="141.9" y="575" text-anchor="middle" fill="#000">2012</text>
<text x="240.9" y="575" text-anchor="middle" fill="#000">2013</text>
<text x="336.9" y="575" text-anchor="middle" fill="#000">2014</text>
<text x="433.9" y="575" text-anchor="middle" fill="#000">2015</text>
<text x="529.9" y="575" text-anchor="middle" fill="#000">2016</text>
<text x="626.9" y="575" text-anchor="middle" fill="#000">2017</text>
<text x="724.9" y="575" text-anchor="middle" fill="#000">2018</text>
<text x="820.9" y="575" text-anchor="middle" fill="#000">2019</text>
<text x="917.9" y="575" text-anchor="middle" fill="#000">2020</text>
<text x="1011.9" y="575" text-anchor="middle" fill="#000">2021</text>
<text x="1104.9" y="575" text-anchor="middle" fill="#000">2022</text>
<text x="1134.8" y="166.0" fill="#000">5</text>
<text x="1134.8" y="242.0" fill="#000">2</text>
<text x="1134.8" y="300.0" fill="#000">1</text>
<text x="1134.8" y="358.0" fill="#000">0,5</text>
<text x="1134.8" y="434.0" fill="#000">0,2</text>
<text x="1134.8" y="492.0" fill="#000">0,1</text>
<text x="1134.8" y="550.0" fill="#000">0,05</text>
<text x="1134.8" y="610.0" fill="#000">1.000T</text>
<text x="1134.8" y="659.0" fill="#000">500T</text>
<text x="1134.8" y="709.0" fill="#000">0T</text>
<text x="10.6" y="556.5" font-size="12.15" fill="#919bac">05.08.10 - 07.04.22   1 Tick = 1 Woche</text>
<rect x="6.5" y="88.5" width="8" height="8" fill="#2a62c0" stroke="#222" stroke-width="1"/>
<text x="19.0" y="96.6" font-size="12.4" fill="#000">Esprit Holdings (Tradegate)</text>
<rect x="198.5" y="88.5" width="8" height="8" fill="#0000ff" stroke="#222" stroke-width="1"/>
<text x="211.0" y="96.6" font-size="12.4" fill="#000">GD 38 Tage: 0,10369</text>
<rect x="355.5" y="88.5" width="8" height="8" fill="#ff0000" stroke="#222" stroke-width="1"/>
<text x="368.0" y="96.6" font-size="12.4" fill="#000">GD 100 Tage: 0,08945</text>
<rect x="519.5" y="88.5" width="8" height="8" fill="#00ff00" stroke="#222" stroke-width="1"/>
<text x="532.0" y="96.6" font-size="12.4" fill="#000">GD 200 Tage: 0,08351</text>
<rect x="6.5" y="588.5" width="8" height="8" fill="#66dd55" stroke="#222" stroke-width="1"/>
<text x="19.0" y="596.6" font-size="12.4" fill="#000">Esprit Holdings Volumen in Euro</text>
<path d="M18.5 704.5 V695.5 M45.5 704.5 V690.8 M93.5 704.5 V702.5 M212.5 704.5 V695.6 M225.5 704.5 V696.4 M266.5 704.5 V689.4 M267.5 704.5 V696.8 M351.5 704.5 V697.7 M538.5 704.5 V702.8 M627.5 704.5 V703.5 M662.5 704.5 V699.6 M665.5 704.5 V701.2 M708.5 704.5 V696.5 M723.5 704.5 V699.6 M812.5 704.5 V700.8 M889.5 704.5 V701.0 M978.5 704.5 V703.0 M1034.5 704.5 V702.1 M1056.5 704.5 V701.0 M1065.5 704.5 V700.9 M1074.5 704.5 V700.1 M1082.5 704.5 V702.2" stroke="#bbbbbb" stroke-width="1" fill="none" shape-rendering="crispEdges"/>
<path d="M7.5 704.5 V697.9 M16.5 704.5 V700.5 M31.5 704.5 V701.3 M32.5 704.5 V700.0 M34.5 704.5 V700.2 M40.5 704.5 V691.1 M56.5 704.5 V677.1 M62.5 704.5 V699.6 M66.5 704.5 V696.2 M75.5 704.5 V697.5 M88.5 704.5 V696.2 M106.5 704.5 V686.9 M108.5 704.5 V696.9 M112.5 704.5 V690.2 M118.5 704.5 V665.2 M119.5 704.5 V691.7 M121.5 704.5 V659.2 M129.5 704.5 V697.1 M131.5 704.5 V686.1 M132.5 704.5 V672.9 M134.5 704.5 V684.1 M136.5 704.5 V699.2 M138.5 704.5 V694.2 M143.5 704.5 V688.5 M145.5 704.5 V685.1 M149.5 704.5 V694.4 M151.5 704.5 V683.6 M153.5 704.5 V670.1 M156.5 704.5 V661.4 M158.5 704.5 V659.2 M168.5 704.5 V698.3 M175.5 704.5 V697.2 M192.5 704.5 V691.1 M193.5 704.5 V689.1 M201.5 704.5 V662.9 M203.5 704.5 V700.6 M216.5 704.5 V696.8 M227.5 704.5 V680.1 M229.5 704.5 V683.6 M232.5 704.5 V694.8 M234.5 704.5 V684.6 M238.5 704.5 V696.3 M240.5 704.5 V693.5 M243.5 704.5 V683.6 M253.5 704.5 V684.5 M260.5 704.5 V699.6 M262.5 704.5 V692.5 M271.5 704.5 V688.3 M275.5 704.5 V679.1 M277.5 704.5 V675.1 M279.5 704.5 V682.8 M288.5 704.5 V682.8 M290.5 704.5 V689.7 M292.5 704.5 V697.6 M293.5 704.5 V698.5 M295.5 704.5 V672.9 M299.5 704.5 V680.9 M308.5 704.5 V698.2 M310.5 704.5 V695.0 M314.5 704.5 V687.8 M317.5 704.5 V680.1 M319.5 704.5 V677.1 M321.5 704.5 V677.1 M323.5 704.5 V664.2 M334.5 704.5 V687.3 M338.5 704.5 V691.1 M342.5 704.5 V699.5 M347.5 704.5 V697.8 M349.5 704.5 V685.1 M356.5 704.5 V699.7 M358.5 704.5 V697.2 M362.5 704.5 V686.4 M364.5 704.5 V697.6 M371.5 704.5 V701.0 M377.5 704.5 V697.6 M379.5 704.5 V698.3 M384.5 704.5 V687.1 M388.5 704.5 V688.3 M391.5 704.5 V687.1 M393.5 704.5 V699.0 M397.5 704.5 V687.8 M399.5 704.5 V683.6 M403.5 704.5 V697.2 M404.5 704.5 V698.7 M414.5 704.5 V698.3 M416.5 704.5 V686.3 M417.5 704.5 V684.1 M419.5 704.5 V672.9 M423.5 704.5 V697.3 M429.5 704.5 V696.2 M432.5 704.5 V686.4 M434.5 704.5 V695.6 M438.5 704.5 V685.8 M440.5 704.5 V699.2 M443.5 704.5 V682.1 M451.5 704.5 V675.9 M453.5 704.5 V686.8 M454.5 704.5 V697.0 M456.5 704.5 V670.1 M458.5 704.5 V687.1 M460.5 704.5 V686.2 M464.5 704.5 V693.6 M471.5 704.5 V668.9 M473.5 704.5 V697.6 M477.5 704.5 V694.9 M486.5 704.5 V702.4 M488.5 704.5 V692.8 M490.5 704.5 V702.5 M493.5 704.5 V698.8 M506.5 704.5 V698.7 M510.5 704.5 V699.5 M512.5 704.5 V665.9 M514.5 704.5 V685.8 M517.5 704.5 V696.1 M519.5 704.5 V690.8 M521.5 704.5 V701.1 M527.5 704.5 V697.7 M528.5 704.5 V698.4 M530.5 704.5 V700.8 M532.5 704.5 V700.5 M534.5 704.5 V700.8 M536.5 704.5 V701.4 M549.5 704.5 V701.7 M551.5 704.5 V700.8 M553.5 704.5 V701.3 M556.5 704.5 V697.2 M562.5 704.5 V700.3 M564.5 704.5 V700.1 M567.5 704.5 V702.0 M569.5 704.5 V702.9 M580.5 704.5 V692.8 M584.5 704.5 V700.9 M586.5 704.5 V701.1 M588.5 704.5 V702.0 M591.5 704.5 V699.6 M593.5 704.5 V697.2 M602.5 704.5 V699.1 M604.5 704.5 V700.3 M606.5 704.5 V702.9 M608.5 704.5 V690.8 M610.5 704.5 V697.7 M619.5 704.5 V701.1 M623.5 704.5 V699.6 M625.5 704.5 V701.0 M630.5 704.5 V701.2 M632.5 704.5 V702.0 M634.5 704.5 V701.2 M636.5 704.5 V697.2 M638.5 704.5 V657.2 M640.5 704.5 V687.1 M643.5 704.5 V695.8 M645.5 704.5 V691.3 M649.5 704.5 V691.3 M651.5 704.5 V701.1 M656.5 704.5 V701.3 M671.5 704.5 V656.0 M673.5 704.5 V700.7 M677.5 704.5 V677.9 M682.5 704.5 V691.3 M684.5 704.5 V680.1 M688.5 704.5 V685.1 M689.5 704.5 V680.1 M693.5 704.5 V687.1 M702.5 704.5 V698.3 M704.5 704.5 V687.8 M725.5 704.5 V701.4 M738.5 704.5 V689.1 M745.5 704.5 V698.2 M747.5 704.5 V697.3 M749.5 704.5 V697.8 M758.5 704.5 V700.1 M760.5 704.5 V696.3 M769.5 704.5 V692.8 M771.5 704.5 V699.1 M773.5 704.5 V701.0 M776.5 704.5 V700.7 M780.5 704.5 V700.0 M784.5 704.5 V701.7 M788.5 704.5 V694.6 M789.5 704.5 V698.6 M791.5 704.5 V697.4 M795.5 704.5 V692.1 M806.5 704.5 V703.1 M813.5 704.5 V700.6 M815.5 704.5 V697.9 M817.5 704.5 V700.7 M819.5 704.5 V700.2 M826.5 704.5 V700.9 M828.5 704.5 V702.4 M830.5 704.5 V701.9 M834.5 704.5 V699.7 M838.5 704.5 V699.1 M839.5 704.5 V697.9 M841.5 704.5 V702.5 M843.5 704.5 V701.2 M845.5 704.5 V697.9 M847.5 704.5 V701.9 M849.5 704.5 V700.2 M851.5 704.5 V699.4 M854.5 704.5 V692.8 M856.5 704.5 V701.6 M858.5 704.5 V700.3 M860.5 704.5 V701.4 M863.5 704.5 V700.5 M867.5 704.5 V701.9 M869.5 704.5 V700.4 M873.5 704.5 V698.6 M878.5 704.5 V703.3 M884.5 704.5 V703.3 M886.5 704.5 V697.8 M888.5 704.5 V703.1 M891.5 704.5 V697.0 M897.5 704.5 V697.8 M900.5 704.5 V701.1 M906.5 704.5 V700.9 M913.5 704.5 V703.2 M921.5 704.5 V703.3 M934.5 704.5 V703.5 M943.5 704.5 V700.3 M945.5 704.5 V703.0 M949.5 704.5 V702.4 M952.5 704.5 V701.9 M954.5 704.5 V700.1 M958.5 704.5 V695.8 M960.5 704.5 V695.0 M962.5 704.5 V702.0 M965.5 704.5 V689.1 M973.5 704.5 V702.8 M975.5 704.5 V702.4 M980.5 704.5 V703.7 M984.5 704.5 V702.1 M986.5 704.5 V703.5 M987.5 704.5 V702.1 M989.5 704.5 V703.2 M991.5 704.5 V702.2 M1000.5 704.5 V695.8 M1004.5 704.5 V701.9 M1008.5 704.5 V697.0 M1012.5 704.5 V703.0 M1023.5 704.5 V702.8 M1024.5 704.5 V703.3 M1028.5 704.5 V703.2 M1030.5 704.5 V702.4 M1032.5 704.5 V701.3 M1036.5 704.5 V702.3 M1039.5 704.5 V702.7 M1041.5 704.5 V703.0 M1043.5 704.5 V702.8 M1050.5 704.5 V700.9 M1052.5 704.5 V703.3 M1054.5 704.5 V702.2 M1058.5 704.5 V702.4 M1060.5 704.5 V702.8 M1063.5 704.5 V702.9 M1067.5 704.5 V702.5 M1069.5 704.5 V700.4 M1071.5 704.5 V697.8 M1073.5 704.5 V702.5 M1078.5 704.5 V703.2 M1080.5 704.5 V703.1 M1086.5 704.5 V701.5 M1087.5 704.5 V700.1 M1089.5 704.5 V703.4 M1091.5 704.5 V703.4 M1097.5 704.5 V703.5 M1108.5 704.5 V700.1 M1111.5 704.5 V701.2 M1113.5 704.5 V701.4 M1115.5 704.5 V692.8 M1117.5 704.5 V695.8 M1119.5 704.5 V703.1 M1124.5 704.5 V700.8 M1130.5 704.5 V692.1" stroke="#66dd55" stroke-width="1" fill="none" shape-rendering="crispEdges"/>
<path d="M8.5 704.5 V701.1 M10.5 704.5 V701.1 M12.5 704.5 V697.0 M14.5 704.5 V699.2 M19.5 704.5 V698.2 M21.5 704.5 V701.5 M23.5 704.5 V694.6 M25.5 704.5 V696.1 M27.5 704.5 V701.1 M29.5 704.5 V699.3 M36.5 704.5 V700.3 M38.5 704.5 V690.8 M42.5 704.5 V694.6 M44.5 704.5 V697.1 M47.5 704.5 V692.3 M49.5 704.5 V695.1 M51.5 704.5 V698.9 M53.5 704.5 V693.8 M55.5 704.5 V700.9 M58.5 704.5 V698.9 M60.5 704.5 V699.1 M64.5 704.5 V685.8 M68.5 704.5 V691.8 M69.5 704.5 V701.6 M71.5 704.5 V699.7 M73.5 704.5 V697.7 M77.5 704.5 V687.8 M79.5 704.5 V698.1 M81.5 704.5 V697.0 M82.5 704.5 V700.0 M84.5 704.5 V692.9 M86.5 704.5 V686.9 M90.5 704.5 V694.2 M92.5 704.5 V695.3 M95.5 704.5 V686.9 M97.5 704.5 V696.3 M99.5 704.5 V700.2 M101.5 704.5 V685.8 M103.5 704.5 V688.8 M105.5 704.5 V698.7 M110.5 704.5 V689.6 M114.5 704.5 V635.3 M116.5 704.5 V623.1 M123.5 704.5 V660.2 M125.5 704.5 V699.2 M127.5 704.5 V667.9 M140.5 704.5 V692.4 M142.5 704.5 V694.3 M147.5 704.5 V694.6 M155.5 704.5 V690.7 M160.5 704.5 V647.2 M162.5 704.5 V682.8 M164.5 704.5 V685.1 M166.5 704.5 V694.1 M169.5 704.5 V698.8 M171.5 704.5 V690.9 M173.5 704.5 V685.8 M177.5 704.5 V692.6 M179.5 704.5 V685.8 M180.5 704.5 V686.5 M182.5 704.5 V686.7 M184.5 704.5 V685.7 M186.5 704.5 V668.9 M188.5 704.5 V675.9 M190.5 704.5 V682.8 M195.5 704.5 V689.0 M197.5 704.5 V697.9 M199.5 704.5 V688.4 M205.5 704.5 V692.7 M206.5 704.5 V697.3 M208.5 704.5 V692.6 M210.5 704.5 V697.9 M214.5 704.5 V685.1 M218.5 704.5 V699.1 M219.5 704.5 V689.1 M221.5 704.5 V639.0 M223.5 704.5 V689.1 M230.5 704.5 V684.1 M236.5 704.5 V672.9 M242.5 704.5 V691.2 M245.5 704.5 V694.0 M247.5 704.5 V691.7 M249.5 704.5 V700.3 M251.5 704.5 V695.1 M255.5 704.5 V693.5 M256.5 704.5 V700.7 M258.5 704.5 V694.4 M264.5 704.5 V695.6 M269.5 704.5 V695.6 M273.5 704.5 V682.1 M280.5 704.5 V698.8 M282.5 704.5 V683.6 M284.5 704.5 V688.3 M286.5 704.5 V693.7 M297.5 704.5 V682.8 M301.5 704.5 V693.0 M303.5 704.5 V695.4 M304.5 704.5 V699.6 M306.5 704.5 V660.2 M312.5 704.5 V698.3 M316.5 704.5 V685.1 M325.5 704.5 V670.9 M327.5 704.5 V684.1 M329.5 704.5 V667.9 M330.5 704.5 V685.1 M332.5 704.5 V673.9 M336.5 704.5 V695.8 M340.5 704.5 V692.9 M343.5 704.5 V694.5 M345.5 704.5 V699.6 M353.5 704.5 V691.9 M354.5 704.5 V684.1 M360.5 704.5 V689.5 M366.5 704.5 V695.0 M367.5 704.5 V687.1 M369.5 704.5 V687.8 M373.5 704.5 V687.1 M375.5 704.5 V696.6 M380.5 704.5 V688.3 M382.5 704.5 V687.1 M386.5 704.5 V670.1 M390.5 704.5 V687.7 M395.5 704.5 V687.1 M401.5 704.5 V686.2 M406.5 704.5 V671.1 M408.5 704.5 V687.1 M410.5 704.5 V697.0 M412.5 704.5 V695.0 M421.5 704.5 V691.9 M425.5 704.5 V693.9 M427.5 704.5 V680.1 M430.5 704.5 V696.9 M436.5 704.5 V680.1 M441.5 704.5 V698.8 M445.5 704.5 V694.5 M447.5 704.5 V667.9 M449.5 704.5 V670.1 M462.5 704.5 V700.0 M466.5 704.5 V668.9 M467.5 704.5 V695.0 M469.5 704.5 V675.9 M475.5 704.5 V693.5 M478.5 704.5 V694.9 M480.5 704.5 V697.4 M482.5 704.5 V690.8 M484.5 704.5 V699.4 M491.5 704.5 V698.6 M495.5 704.5 V692.8 M497.5 704.5 V698.3 M499.5 704.5 V693.5 M501.5 704.5 V701.7 M503.5 704.5 V701.8 M504.5 704.5 V700.0 M508.5 704.5 V696.0 M515.5 704.5 V701.7 M523.5 704.5 V700.3 M525.5 704.5 V693.5 M540.5 704.5 V700.3 M541.5 704.5 V703.1 M543.5 704.5 V700.8 M545.5 704.5 V702.9 M547.5 704.5 V702.9 M554.5 704.5 V702.0 M558.5 704.5 V701.6 M560.5 704.5 V700.0 M565.5 704.5 V703.2 M571.5 704.5 V697.7 M573.5 704.5 V701.9 M575.5 704.5 V697.2 M577.5 704.5 V699.5 M578.5 704.5 V702.5 M582.5 704.5 V697.2 M590.5 704.5 V703.7 M595.5 704.5 V697.2 M597.5 704.5 V699.1 M599.5 704.5 V702.9 M601.5 704.5 V695.8 M612.5 704.5 V701.9 M614.5 704.5 V700.0 M615.5 704.5 V701.4 M617.5 704.5 V702.9 M621.5 704.5 V702.9 M628.5 704.5 V701.3 M641.5 704.5 V687.8 M647.5 704.5 V699.6 M652.5 704.5 V698.0 M654.5 704.5 V694.8 M658.5 704.5 V700.4 M660.5 704.5 V700.2 M664.5 704.5 V694.0 M667.5 704.5 V691.3 M669.5 704.5 V638.0 M675.5 704.5 V690.8 M678.5 704.5 V684.1 M680.5 704.5 V692.1 M686.5 704.5 V697.6 M691.5 704.5 V679.1 M695.5 704.5 V667.2 M697.5 704.5 V687.1 M699.5 704.5 V691.3 M701.5 704.5 V687.8 M706.5 704.5 V702.0 M710.5 704.5 V699.3 M712.5 704.5 V699.0 M714.5 704.5 V699.8 M715.5 704.5 V689.1 M717.5 704.5 V691.3 M719.5 704.5 V694.9 M721.5 704.5 V694.6 M727.5 704.5 V696.6 M728.5 704.5 V664.2 M730.5 704.5 V684.1 M732.5 704.5 V700.7 M734.5 704.5 V698.5 M736.5 704.5 V701.4 M739.5 704.5 V699.4 M741.5 704.5 V692.8 M743.5 704.5 V703.0 M751.5 704.5 V699.5 M752.5 704.5 V694.6 M754.5 704.5 V701.1 M756.5 704.5 V702.4 M762.5 704.5 V694.6 M764.5 704.5 V690.8 M765.5 704.5 V698.1 M767.5 704.5 V689.8 M775.5 704.5 V698.3 M778.5 704.5 V703.1 M782.5 704.5 V697.7 M786.5 704.5 V699.8 M793.5 704.5 V702.5 M797.5 704.5 V694.6 M799.5 704.5 V699.6 M801.5 704.5 V701.8 M802.5 704.5 V703.4 M804.5 704.5 V697.9 M808.5 704.5 V701.6 M810.5 704.5 V700.9 M821.5 704.5 V702.9 M823.5 704.5 V698.7 M825.5 704.5 V702.3 M832.5 704.5 V701.2 M836.5 704.5 V701.1 M852.5 704.5 V700.4 M862.5 704.5 V702.4 M865.5 704.5 V702.0 M871.5 704.5 V702.3 M875.5 704.5 V703.4 M876.5 704.5 V697.8 M880.5 704.5 V697.0 M882.5 704.5 V703.7 M893.5 704.5 V701.9 M895.5 704.5 V703.0 M899.5 704.5 V701.9 M902.5 704.5 V703.4 M904.5 704.5 V702.0 M908.5 704.5 V703.2 M910.5 704.5 V701.4 M912.5 704.5 V701.3 M915.5 704.5 V702.8 M917.5 704.5 V702.1 M919.5 704.5 V703.0 M923.5 704.5 V695.0 M925.5 704.5 V700.6 M926.5 704.5 V703.5 M928.5 704.5 V702.3 M930.5 704.5 V700.1 M932.5 704.5 V702.0 M936.5 704.5 V700.5 M938.5 704.5 V694.0 M939.5 704.5 V694.0 M941.5 704.5 V700.6 M947.5 704.5 V702.8 M950.5 704.5 V703.4 M956.5 704.5 V702.4 M963.5 704.5 V697.8 M967.5 704.5 V703.4 M969.5 704.5 V700.8 M971.5 704.5 V701.9 M976.5 704.5 V701.5 M982.5 704.5 V701.0 M993.5 704.5 V703.7 M995.5 704.5 V703.3 M997.5 704.5 V702.5 M999.5 704.5 V702.4 M1002.5 704.5 V703.0 M1006.5 704.5 V702.1 M1010.5 704.5 V702.1 M1013.5 704.5 V682.8 M1015.5 704.5 V697.0 M1017.5 704.5 V702.3 M1019.5 704.5 V697.0 M1021.5 704.5 V700.8 M1026.5 704.5 V701.9 M1037.5 704.5 V700.1 M1045.5 704.5 V700.6 M1047.5 704.5 V703.2 M1049.5 704.5 V697.8 M1062.5 704.5 V701.7 M1076.5 704.5 V700.7 M1084.5 704.5 V702.2 M1093.5 704.5 V702.7 M1095.5 704.5 V701.9 M1099.5 704.5 V701.0 M1100.5 704.5 V703.4 M1102.5 704.5 V703.2 M1104.5 704.5 V700.1 M1106.5 704.5 V699.0 M1110.5 704.5 V702.8 M1121.5 704.5 V699.0 M1123.5 704.5 V703.3 M1126.5 704.5 V703.6 M1128.5 704.5 V692.1" stroke="#d45f5f" stroke-width="1" fill="none" shape-rendering="crispEdges"/>
</svg>
<div class="bar"></div>
<div class="tabact"></div>
<div class="selbox">Tradegate<svg style="position:absolute;left:90px;top:9px" width="12" height="9" viewBox="0 0 12 9"><path d="M1.3 1.8 L6 6.6 L10.7 1.8" fill="none" stroke="#444" stroke-width="1.5"/></svg></div>
<svg width="1205" height="80" viewBox="0 0 1205 80" style="position:absolute;left:0;top:0" font-family="Liberation Sans, Arial, sans-serif">
<path d="M187 30.5 H205 L196 39.6 Z" fill="#c9d5df"/>
<text x="15.9" y="19.6" font-size="15.8" font-weight="normal" fill="#111" textLength="71.0" lengthAdjust="spacing" stroke="#111" stroke-width="0.55">Übersicht</text>
<text x="111.5" y="19.6" font-size="15.8" font-weight="normal" fill="#111" textLength="40.6" lengthAdjust="spacing" stroke="#111" stroke-width="0.55">Kurse</text>
<text x="176.5" y="19.6" font-size="15.8" font-weight="normal" fill="#0a3a66" textLength="40.0" lengthAdjust="spacing" stroke="#0a3a66" stroke-width="0.55">Chart</text>
<text x="240.6" y="19.6" font-size="15.8" font-weight="normal" fill="#111" textLength="87.1" lengthAdjust="spacing" stroke="#111" stroke-width="0.55">Kennzahlen</text>
<text x="352.1" y="19.6" font-size="15.8" font-weight="normal" fill="#111" textLength="38.8" lengthAdjust="spacing" stroke="#111" stroke-width="0.55">News</text>
<text x="415.3" y="19.6" font-size="15.8" font-weight="normal" fill="#111" textLength="46.6" lengthAdjust="spacing" stroke="#111" stroke-width="0.55">Forum</text>
<text x="16.6" y="57.9" font-size="14.5" font-weight="normal" fill="#33363b" textLength="34.7" lengthAdjust="spacing">Push</text>
<text x="78.2" y="57.9" font-size="14.5" font-weight="normal" fill="#33363b" textLength="15.4" lengthAdjust="spacing">1T</text>
<text x="120.4" y="57.9" font-size="14.5" font-weight="normal" fill="#33363b" textLength="17.0" lengthAdjust="spacing">5T</text>
<text x="164.6" y="57.9" font-size="14.5" font-weight="normal" fill="#33363b" textLength="19.2" lengthAdjust="spacing">1M</text>
<text x="210.0" y="57.9" font-size="14.5" font-weight="normal" fill="#33363b" textLength="20.2" lengthAdjust="spacing">3M</text>
<text x="257.2" y="57.9" font-size="14.5" font-weight="normal" fill="#33363b" textLength="14.6" lengthAdjust="spacing">1J</text>
<text x="298.6" y="57.9" font-size="14.5" font-weight="normal" fill="#33363b" textLength="15.6" lengthAdjust="spacing">3J</text>
<text x="341.3" y="57.9" font-size="14.9" font-weight="normal" fill="#0a3a66" textLength="30.4" lengthAdjust="spacing" stroke="#0a3a66" stroke-width="0.55">Ges.</text>
<rect x="340" y="71" width="32" height="3" fill="#0a3a66"/>
<g fill="none" stroke="#4a4a4a" stroke-width="1.9" stroke-linecap="round">
<path d="M403.2 43 H403.9 A0 0 0 0 0 403.9 43 M403.2 43 Q400.2 43.4 400.2 47.5 V59 Q400.2 63.8 405 63.8 H416.4 Q421.2 63.8 421.2 59 V47.5 Q421.2 43.4 418.2 43"/>
<path d="M408.6 43 H412.8"/>
</g>
<rect x="404.4" y="40.6" width="2.4" height="3.9" rx="1" fill="#4a4a4a"/><rect x="414.6" y="40.6" width="2.4" height="3.9" rx="1" fill="#4a4a4a"/>
<text x="403.6" y="59.9" font-size="13" font-weight="bold" fill="#3a3a3a" textLength="15.0" lengthAdjust="spacing" stroke="#3a3a3a" stroke-width="0.7">21</text>
<path d="M428.0 49.2 h12.0 l-6.0 6.5 Z" fill="#1a1a1a"/>
<text x="604.3" y="57.2" font-size="13" font-weight="normal" fill="#262b3a" textLength="52.1" lengthAdjust="spacing">Vergleich</text>
<path d="M661.3 49.2 h11.4 l-5.7 6.5 Z" fill="#1a1a1a"/>
<text x="691.4" y="57.2" font-size="13" font-weight="normal" fill="#262b3a" textLength="64.2" lengthAdjust="spacing">Darstellung</text>
<path d="M759.9 49.2 h11.4 l-5.7 6.5 Z" fill="#1a1a1a"/>
<text x="790.4" y="57.2" font-size="13" font-weight="normal" fill="#262b3a" textLength="78.8" lengthAdjust="spacing">Chart-Analyse</text>
<path d="M873.8 49.2 h11.4 l-5.7 6.5 Z" fill="#1a1a1a"/>
<path d="M936.40 52.40 L936.40 52.55 L936.39 52.69 L936.39 52.84 L936.38 52.99 L936.37 53.13 L936.35 53.28 L936.34 53.42 L936.32 53.57 L936.34 53.72 L936.45 53.89 L936.63 54.08 L936.87 54.29 L937.16 54.51 L937.47 54.76 L937.79 55.02 L938.09 55.29 L938.36 55.57 L938.57 55.83 L938.71 56.09 L938.76 56.32 L938.74 56.52 L938.66 56.71 L938.59 56.89 L938.51 57.08 L938.42 57.26 L938.34 57.44 L938.25 57.62 L938.15 57.80 L938.06 57.98 L937.96 58.15 L937.86 58.32 L937.75 58.49 L937.64 58.66 L937.53 58.83 L937.42 59.00 L937.30 59.16 L937.18 59.32 L937.06 59.48 L936.94 59.64 L936.78 59.76 L936.55 59.83 L936.26 59.83 L935.92 59.79 L935.55 59.69 L935.17 59.57 L934.78 59.42 L934.41 59.27 L934.07 59.14 L933.77 59.03 L933.51 58.97 L933.31 58.96 L933.17 59.02 L933.06 59.11 L932.94 59.20 L932.82 59.28 L932.70 59.36 L932.57 59.44 L932.45 59.52 L932.33 59.60 L932.20 59.67 L932.07 59.75 L931.94 59.82 L931.81 59.88 L931.68 59.95 L931.55 60.01 L931.42 60.07 L931.28 60.13 L931.15 60.19 L931.03 60.28 L930.93 60.46 L930.86 60.71 L930.80 61.03 L930.75 61.39 L930.69 61.78 L930.62 62.19 L930.54 62.59 L930.44 62.95 L930.31 63.27 L930.16 63.51 L929.99 63.68 L929.80 63.76 L929.60 63.79 L929.40 63.81 L929.20 63.84 L929.00 63.86 L928.80 63.87 L928.60 63.88 L928.40 63.89 L928.20 63.90 L928.00 63.90 L927.80 63.90 L927.60 63.89 L927.40 63.88 L927.20 63.87 L927.00 63.86 L926.80 63.84 L926.60 63.81 L926.40 63.79 L926.20 63.76 L926.01 63.68 L925.84 63.51 L925.69 63.27 L925.56 62.95 L925.46 62.59 L925.38 62.19 L925.31 61.78 L925.25 61.39 L925.20 61.03 L925.14 60.71 L925.07 60.46 L924.97 60.28 L924.85 60.19 L924.72 60.13 L924.58 60.07 L924.45 60.01 L924.32 59.95 L924.19 59.88 L924.06 59.82 L923.93 59.75 L923.80 59.67 L923.67 59.60 L923.55 59.52 L923.43 59.44 L923.30 59.36 L923.18 59.28 L923.06 59.20 L922.94 59.11 L922.83 59.02 L922.69 58.96 L922.49 58.97 L922.23 59.03 L921.93 59.14 L921.59 59.27 L921.22 59.42 L920.83 59.57 L920.45 59.69 L920.08 59.79 L919.74 59.83 L919.45 59.83 L919.22 59.76 L919.06 59.64 L918.94 59.48 L918.82 59.32 L918.70 59.16 L918.58 59.00 L918.47 58.83 L918.36 58.66 L918.25 58.49 L918.14 58.32 L918.04 58.15 L917.94 57.98 L917.85 57.80 L917.75 57.62 L917.66 57.44 L917.58 57.26 L917.49 57.08 L917.41 56.89 L917.34 56.71 L917.26 56.52 L917.24 56.32 L917.29 56.09 L917.43 55.83 L917.64 55.57 L917.91 55.29 L918.21 55.02 L918.53 54.76 L918.84 54.51 L919.13 54.29 L919.37 54.08 L919.55 53.89 L919.66 53.72 L919.68 53.57 L919.66 53.42 L919.65 53.28 L919.63 53.13 L919.62 52.99 L919.61 52.84 L919.61 52.69 L919.60 52.55 L919.60 52.40 L919.60 52.25 L919.61 52.11 L919.61 51.96 L919.62 51.81 L919.63 51.67 L919.65 51.52 L919.66 51.38 L919.68 51.23 L919.66 51.08 L919.55 50.91 L919.37 50.72 L919.13 50.51 L918.84 50.29 L918.53 50.04 L918.21 49.78 L917.91 49.51 L917.64 49.23 L917.43 48.97 L917.29 48.71 L917.24 48.48 L917.26 48.28 L917.34 48.09 L917.41 47.91 L917.49 47.72 L917.58 47.54 L917.66 47.36 L917.75 47.18 L917.85 47.00 L917.94 46.82 L918.04 46.65 L918.14 46.48 L918.25 46.31 L918.36 46.14 L918.47 45.97 L918.58 45.80 L918.70 45.64 L918.82 45.48 L918.94 45.32 L919.06 45.16 L919.22 45.04 L919.45 44.97 L919.74 44.97 L920.08 45.01 L920.45 45.11 L920.83 45.23 L921.22 45.38 L921.59 45.53 L921.93 45.66 L922.23 45.77 L922.49 45.83 L922.69 45.84 L922.83 45.78 L922.94 45.69 L923.06 45.60 L923.18 45.52 L923.30 45.44 L923.43 45.36 L923.55 45.28 L923.67 45.20 L923.80 45.13 L923.93 45.05 L924.06 44.98 L924.19 44.92 L924.32 44.85 L924.45 44.79 L924.58 44.73 L924.72 44.67 L924.85 44.61 L924.97 44.52 L925.07 44.34 L925.14 44.09 L925.20 43.77 L925.25 43.41 L925.31 43.02 L925.38 42.61 L925.46 42.21 L925.56 41.85 L925.69 41.53 L925.84 41.29 L926.01 41.12 L926.20 41.04 L926.40 41.01 L926.60 40.99 L926.80 40.96 L927.00 40.94 L927.20 40.93 L927.40 40.92 L927.60 40.91 L927.80 40.90 L928.00 40.90 L928.20 40.90 L928.40 40.91 L928.60 40.92 L928.80 40.93 L929.00 40.94 L929.20 40.96 L929.40 40.99 L929.60 41.01 L929.80 41.04 L929.99 41.12 L930.16 41.29 L930.31 41.53 L930.44 41.85 L930.54 42.21 L930.62 42.61 L930.69 43.02 L930.75 43.41 L930.80 43.77 L930.86 44.09 L930.93 44.34 L931.03 44.52 L931.15 44.61 L931.28 44.67 L931.42 44.73 L931.55 44.79 L931.68 44.85 L931.81 44.92 L931.94 44.98 L932.07 45.05 L932.20 45.13 L932.33 45.20 L932.45 45.28 L932.57 45.36 L932.70 45.44 L932.82 45.52 L932.94 45.60 L933.06 45.69 L933.17 45.78 L933.31 45.84 L933.51 45.83 L933.77 45.77 L934.07 45.66 L934.41 45.53 L934.78 45.38 L935.17 45.23 L935.55 45.11 L935.92 45.01 L936.26 44.97 L936.55 44.97 L936.78 45.04 L936.94 45.16 L937.06 45.32 L937.18 45.48 L937.30 45.64 L937.42 45.80 L937.53 45.97 L937.64 46.14 L937.75 46.31 L937.86 46.48 L937.96 46.65 L938.06 46.82 L938.15 47.00 L938.25 47.18 L938.34 47.36 L938.42 47.54 L938.51 47.72 L938.59 47.91 L938.66 48.09 L938.74 48.28 L938.76 48.48 L938.71 48.71 L938.57 48.97 L938.36 49.23 L938.09 49.51 L937.79 49.78 L937.47 50.04 L937.16 50.29 L936.87 50.51 L936.63 50.72 L936.45 50.91 L936.34 51.08 L936.32 51.23 L936.34 51.38 L936.35 51.52 L936.37 51.67 L936.38 51.81 L936.39 51.96 L936.39 52.11 L936.40 52.25 Z" fill="none" stroke="#4a4a4a" stroke-width="1.7" stroke-linejoin="round"/>
<circle cx="928" cy="52.4" r="6.2" fill="none" stroke="#4a4a4a" stroke-width="1.7"/>
<path d="M946.9 49.2 h11.4 l-5.7 6.5 Z" fill="#1a1a1a"/>
<g fill="none" stroke="#4a4a4a" stroke-width="1.7">
<circle cx="984.30" cy="44.30" r="3.3"/>
<circle cx="995.60" cy="48.55" r="3.3"/>
<circle cx="986.45" cy="57.20" r="3.3"/>
<circle cx="998.75" cy="60.60" r="3.3"/>
<path d="M984.9 47.6 L985.8 53.9 M993.0 50.7 L989.0 54.8 M989.7 58.1 L995.5 59.7"/>
</g>
<path d="M1010.0 49.2 h12.0 l-6.0 6.5 Z" fill="#1a1a1a"/>
<circle cx="1052.96" cy="51.3" r="9.3" fill="none" stroke="#4a4a4a" stroke-width="1.6"/>
<path d="M1060.6 58.2 L1065.7 62.6" stroke="#4a4a4a" stroke-width="4.4" stroke-linecap="round" fill="none"/>
<path d="M1060.9 58.45 L1065.7 62.6" stroke="#ecf0f4" stroke-width="1.5" stroke-linecap="round" fill="none"/>
<path d="M1049.2 51.3 H1056.8 M1053 47.5 V55.1" stroke="#2a2a2a" stroke-width="2.3" stroke-linecap="round" fill="none"/>
<path d="M1073.9 49.2 h11.6 l-5.8 6.5 Z" fill="#1a1a1a"/>
<g fill="none" stroke="#4a4a4a" stroke-width="1.8" stroke-linejoin="round">
<path d="M1111.2 46.8 V44.5 Q1111.2 42.3 1113.4 42.3 H1123.8 Q1126 42.3 1126 44.5 V46.8"/>
<path d="M1111.2 59.6 H1109.6 Q1107.2 59.6 1107.2 57.2 V49.8 Q1107.2 47.3 1109.8 47.3 H1127.4 Q1130 47.3 1130 49.8 V57.2 Q1130 59.6 1127.6 59.6 H1126"/>
<path d="M1111.2 57.5 Q1111.2 55 1113.8 55 H1123.4 Q1126 55 1126 57.5 V60.4 Q1126 62.8 1123.6 62.8 H1113.6 Q1111.2 62.8 1111.2 60.4 Z"/>
</g>
<circle cx="1126" cy="50.3" r="1.15" fill="#333"/>
<path d="M1154.6 41 H1173 L1176 44.2 V62.4 Q1176 63.8 1174.6 63.8 H1154.6 Q1153.2 63.8 1153.2 62.4 V42.4 Q1153.2 41 1154.6 41 Z" fill="#d9dcdf" stroke="#3a3a3a" stroke-width="1.8" stroke-linejoin="round"/>
<path d="M1166.8 41.9 H1172.6 L1175.1 44.6 V51.3 H1166.8 Z" fill="#ecf0f4"/>
<rect x="1157.1" y="41" width="9" height="5.5" fill="#ecf0f4" stroke="#3a3a3a" stroke-width="1.7"/>
<rect x="1157.1" y="52.1" width="15" height="11.7" fill="#ecf0f4" stroke="#3a3a3a" stroke-width="1.7"/>
<path d="M1183.0 49.2 h12.0 l-6.0 6.5 Z" fill="#1a1a1a"/>
</svg>
</body>
</html>
